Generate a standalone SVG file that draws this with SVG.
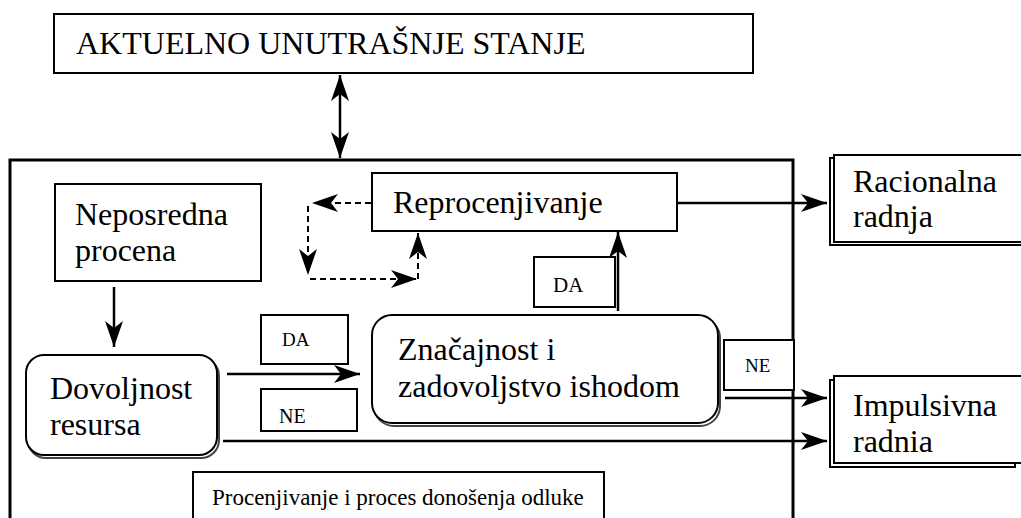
<svg xmlns="http://www.w3.org/2000/svg" width="1021" height="518" viewBox="0 0 1021 518">
<style>
.t{font-family:"Liberation Serif","Times New Roman","DejaVu Serif",serif;fill:#000}
.big{font-size:32px}
.box{fill:#fff;stroke:#000;stroke-width:2}
.sh{fill:#fff;stroke:#000;stroke-width:2}
.rsh{fill:none;stroke:#444;stroke-width:2}
.ln{fill:none;stroke:#000;stroke-width:2.5}
.dash{fill:none;stroke:#000;stroke-width:2;stroke-dasharray:6 4}
</style>
<defs>
<marker id="ah" markerUnits="userSpaceOnUse" viewBox="-1 -10 28 20" refX="26" refY="0" markerWidth="28" markerHeight="20" orient="auto-start-reverse">
<path d="M0,-9 L26,0 L0,9 L7,0 z" fill="#000"/>
</marker>
</defs>
<g id="container">
<rect x="10" y="160" width="783" height="400" fill="none" stroke="#000" stroke-width="3"/>
</g>
<g id="aktuelno">
<rect class="box" x="54" y="14" width="699" height="59"/>
<text class="t big" x="76" y="54">AKTUELNO UNUTRAŠNJE STANJE</text>
</g>
<g id="neposredna">
<rect class="box" x="55" y="184" width="206" height="97"/>
<text class="t big" x="75" y="225">Neposredna</text>
<text class="t big" x="75" y="261">procena</text>
</g>
<g id="reprocenjivanje">
<rect class="box" x="372" y="173" width="305" height="58"/>
<text class="t big" x="393" y="213">Reprocenjivanje</text>
</g>
<g id="racionalna">
<rect class="sh" x="830" y="158" width="200" height="87"/>
<rect class="box" x="834" y="155" width="200" height="87"/>
<text class="t big" x="853" y="192">Racionalna</text>
<text class="t big" x="853" y="227">radnja</text>
</g>
<g id="impulsivna">
<rect class="sh" x="830" y="380" width="185" height="87"/>
<rect class="box" x="834" y="376" width="200" height="87"/>
<text class="t big" x="853" y="416">Impulsivna</text>
<text class="t big" x="853" y="452">radnia</text>
</g>
<g id="dovoljnost">
<rect class="rsh" x="28" y="358" width="191" height="100" rx="18"/>
<rect class="box" x="26" y="355" width="191" height="100" rx="18"/>
<text class="t big" x="50" y="399">Dovoljnost</text>
<text class="t big" x="50" y="435">resursa</text>
</g>
<g id="znacajnost">
<rect class="rsh" x="374" y="318" width="346" height="108" rx="20"/>
<rect class="box" x="372" y="315" width="346" height="108" rx="20"/>
<text class="t big" x="398" y="360">Značajnost i</text>
<text class="t big" x="398" y="397">zadovoljstvo ishodom</text>
</g>
<g id="procenjivanje">
<rect class="box" x="193" y="472" width="411" height="60"/>
<text class="t" font-size="23" x="212" y="505">Procenjivanje i proces donošenja odluke</text>
</g>
<g id="connectors">
<line class="ln" x1="340" y1="75" x2="340" y2="158" marker-start="url(#ah)" marker-end="url(#ah)"/>
<line class="ln" x1="114" y1="287" x2="114" y2="347" marker-end="url(#ah)"/>
<line class="ln" x1="227" y1="374" x2="360" y2="374" marker-end="url(#ah)"/>
<line class="ln" x1="223" y1="441" x2="827" y2="441" marker-end="url(#ah)"/>
<line class="ln" x1="725" y1="398" x2="827" y2="398" marker-end="url(#ah)"/>
<line class="ln" x1="677" y1="203" x2="827" y2="203" marker-end="url(#ah)"/>
<line class="ln" x1="618" y1="311" x2="618" y2="232" stroke-width="3" marker-end="url(#ah)"/>
<line class="dash" x1="371" y1="203" x2="312" y2="203" marker-end="url(#ah)"/>
<line class="dash" x1="308" y1="206" x2="308" y2="275" marker-end="url(#ah)"/>
<line class="dash" x1="310" y1="279" x2="417" y2="279" marker-end="url(#ah)"/>
<line class="dash" x1="418" y1="279" x2="418" y2="233" marker-end="url(#ah)"/>
</g>
<g id="label-da-1">
<rect class="box" x="261" y="315" width="87" height="49"/>
<text class="t" font-size="19" x="282" y="346">DA</text>
</g>
<g id="label-ne-1">
<rect class="box" x="261" y="389" width="96" height="42"/>
<text class="t" font-size="20" x="279" y="423">NE</text>
</g>
<g id="label-da-2">
<rect class="box" x="534" y="257" width="81" height="50"/>
<text class="t" font-size="21" x="553" y="292">DA</text>
</g>
<g id="label-ne-2">
<rect class="box" x="724" y="340" width="70" height="50"/>
<text class="t" font-size="19" x="745" y="372">NE</text>
</g>
</svg>
